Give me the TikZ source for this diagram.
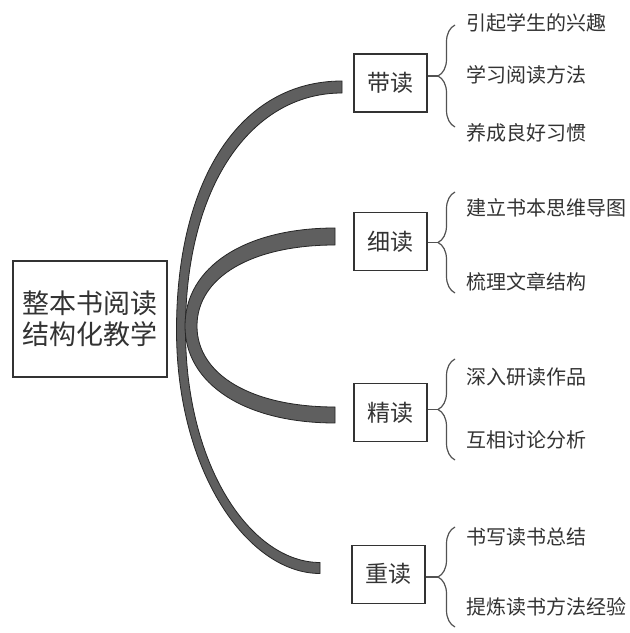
\documentclass[tikz,border=0pt]{standalone}
\usepackage{fontspec}
\newfontfamily\cjk{Noto Sans CJK SC}
\usepackage{xcolor}
\usepackage{tikz}
\usetikzlibrary{positioning}
\usetikzlibrary{decorations.pathreplacing}
\definecolor{inkgray}{HTML}{333333}
\definecolor{bandgray}{HTML}{5F5F5F}
\tikzset{
 topic/.style={draw=inkgray, line width=1.1pt, text=inkgray, minimum width=73pt, minimum height=58pt, inner sep=0pt, font=\cjk\fontsize{23}{27}\selectfont},
 leaf/.style={anchor=west, inner sep=0pt, text=inkgray, font=\cjk\fontsize{20}{24}\selectfont},
 bracket/.style={draw=inkgray!85, line width=1.2pt, decorate, decoration={brace, amplitude=17pt}},
 stem/.style={draw=inkgray!85, line width=1.6pt},
 band/.style={fill=bandgray, draw=black!85, line width=0.8pt}
}

\begin{document}
\begin{tikzpicture}[x=1pt,y=1pt]
\fill[white] (0,0) rectangle (630,633);
\useasboundingbox (0,0) rectangle (630,633);
\node[draw=inkgray, line width=1.1pt, minimum width=154pt, minimum height=116pt, align=center, text=inkgray, font=\cjk\fontsize{27}{31}\selectfont] (main) at (90,314) {整本书阅读\\结构化教学};
\node[topic] (dai) at (390.5,550) {带读};
 \node[topic, below=99.5pt of dai] (xi) {细读};
  \node[topic, below=112pt of xi] (jing) {精读};
   \node[topic, below=102.5pt of jing, xshift=-2pt] (zhong) {重读};
\path[band] (342,552) .. controls (240,552) and (176.5,453) .. (176.5,303) .. controls (176.5,161) and (248,59.5) .. (320,59.5) -- (320,70.5) .. controls (252,70.5) and (185.5,165) .. (185.5,303) .. controls (185.5,445) and (250,540) .. (342,540) -- cycle;
\path[band] (335,405) .. controls (245,405) and (185,366) .. (185,307) .. controls (185,249) and (245,210) .. (335,210) -- (335,226) .. controls (252,226) and (197,258) .. (197,307) .. controls (197,356) and (252,388) .. (335,388) -- cycle;
\coordinate (daiT) at (455,608); \coordinate (daiB) at (455,506); \coordinate (daiTip) at (438,557);
\coordinate (xiT) at (455,441); \coordinate (xiB) at (455,340); \coordinate (xiTip) at (438,390.5);
\coordinate (jingT) at (455,274); \coordinate (jingB) at (455,173); \coordinate (jingTip) at (438,223.5);
\coordinate (zhongT) at (455,106); \coordinate (zhongB) at (455,6); \coordinate (zhongTip) at (438,56);
\draw[bracket] (daiB) -- (daiT);
 \draw[stem] (dai.east |- daiTip) -- (daiTip);
\draw[bracket] (xiB) -- (xiT);
 \draw[stem] (xi.east |- xiTip) -- (xiTip);
\draw[bracket] (jingB) -- (jingT);
 \draw[stem] (jing.east |- jingTip) -- (jingTip);
\draw[bracket] (zhongB) -- (zhongT);
 \draw[stem] (zhong.east |- zhongTip) -- (zhongTip);
\node[leaf] (d1) at (466,610) {引起学生的兴趣};
\node[leaf] (d2) at (466,558) {学习阅读方法};
\node[leaf] (d3) at (466,500) {养成良好习惯};
\node[leaf] (x1) at (466,425) {建立书本思维导图};
\node[leaf] (x2) at (466,351) {梳理文章结构};
\node[leaf] (j1) at (466,256) {深入研读作品};
\node[leaf] (j2) at (466,193) {互相讨论分析};
\node[leaf] (z1) at (466,96) {书写读书总结};
\node[leaf] (z2) at (466,26) {提炼读书方法经验};
\end{tikzpicture}
\end{document}
